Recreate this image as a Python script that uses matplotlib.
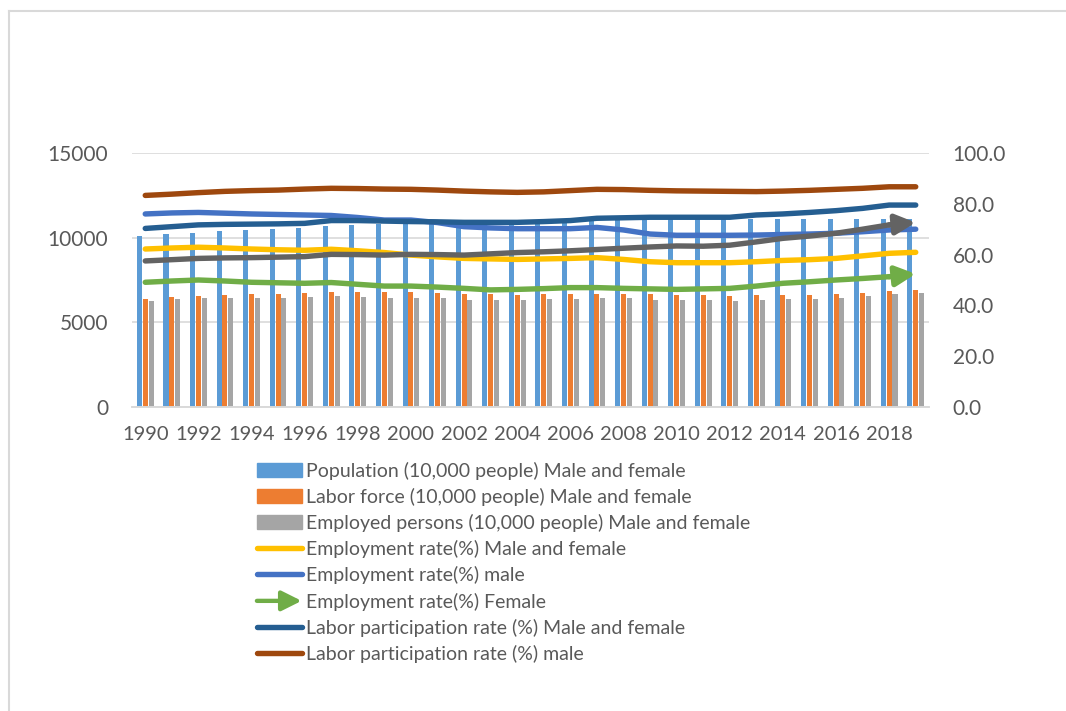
import matplotlib
matplotlib.use("Agg")
import matplotlib.pyplot as plt
import numpy as np
from matplotlib.patches import FancyArrowPatch, Rectangle
from matplotlib.legend_handler import HandlerBase
from matplotlib.lines import Line2D

plt.rcParams['font.family'] = ['Lato', 'DejaVu Sans']

years = list(range(1990, 2020))

# bars, 10,000 people (left axis)
population = [10090, 10200, 10280, 10370, 10440, 10510, 10570, 10660, 10730, 10780,
              10840, 10890, 10930, 10960, 10990, 11010, 11030, 11070, 11090, 11100,
              11110, 11120, 11100, 11090, 11080, 11110, 11115, 11120, 11100, 11090]
labor_force = [6384, 6505, 6578, 6615, 6645, 6666, 6711, 6787, 6793, 6779,
               6766, 6752, 6689, 6666, 6642, 6651, 6664, 6684, 6674, 6650,
               6632, 6596, 6565, 6593, 6609, 6625, 6673, 6720, 6830, 6886]
employed = [6249, 6369, 6436, 6450, 6453, 6457, 6486, 6557, 6514, 6462,
            6446, 6412, 6330, 6316, 6329, 6356, 6389, 6427, 6409, 6314,
            6298, 6293, 6280, 6326, 6371, 6401, 6465, 6530, 6664, 6724]

# rates, % (right axis)
emp_rate_total = [62.2, 62.6, 62.9, 62.6, 62.2, 61.9, 61.7, 62.1, 61.5, 60.8,
                  59.8, 59.1, 58.5, 58.3, 58.1, 58.3, 58.5, 58.8, 58.1, 57.2,
                  56.8, 56.8, 56.8, 57.2, 57.7, 58.0, 58.5, 59.5, 60.5, 60.9]
emp_rate_male = [76.0, 76.4, 76.6, 76.3, 76.0, 75.8, 75.6, 75.4, 74.6, 73.6,
                 73.6, 72.6, 71.0, 70.5, 70.2, 70.2, 70.2, 70.7, 69.7, 68.1,
                 67.6, 67.6, 67.6, 67.7, 67.9, 68.1, 68.4, 69.0, 69.7, 70.0]
emp_rate_female = [49.1, 49.6, 50.0, 49.6, 49.1, 48.9, 48.7, 49.0, 48.3, 47.6,
                   47.6, 47.2, 46.7, 46.1, 46.3, 46.6, 47.0, 47.0, 46.7, 46.5,
                   46.3, 46.5, 46.7, 47.6, 48.7, 49.3, 50.0, 50.6, 51.3, 52.4]
lp_rate_total = [70.3, 71.0, 71.7, 71.9, 72.0, 72.1, 72.3, 73.4, 73.4, 73.2,
                 73.0, 72.9, 72.7, 72.7, 72.7, 73.0, 73.4, 74.3, 74.5, 74.7,
                 74.7, 74.7, 74.7, 75.6, 76.0, 76.6, 77.3, 78.2, 79.5, 79.5]
lp_rate_male = [83.3, 83.8, 84.4, 84.9, 85.2, 85.4, 85.8, 86.1, 86.0, 85.8,
                85.7, 85.4, 85.0, 84.7, 84.5, 84.7, 85.2, 85.7, 85.6, 85.3,
                85.1, 85.0, 84.9, 84.8, 85.0, 85.3, 85.7, 86.1, 86.7, 86.7]
lp_rate_female = [57.5, 58.0, 58.5, 58.7, 58.8, 59.0, 59.2, 60.1, 60.0, 59.8,
                  60.1, 60.0, 59.8, 60.3, 60.8, 61.1, 61.5, 62.0, 62.5, 63.0,
                  63.4, 63.3, 63.7, 65.0, 66.4, 67.3, 68.4, 70.0, 71.7, 72.6]

TXT = '#595959'
GRID = '#d9d9d9'
LW = 3.9
ARROW = '-|>,head_length=0.6,head_width=0.3'


class ArrowHandler(HandlerBase):
    def create_artists(self, legend, orig_handle, xdescent, ydescent,
                       width, height, fontsize, trans):
        y = height / 2 - ydescent
        arr = FancyArrowPatch((-xdescent, y), (width - xdescent, y),
                              arrowstyle=ARROW, mutation_scale=20,
                              color=orig_handle.get_color(), lw=LW * 0.8,
                              shrinkA=0, shrinkB=0, transform=trans)
        return [arr]


fig = plt.figure(figsize=(10.66, 7.11), dpi=100)
ax = fig.add_axes([0.1238, 0.4276, 0.7477, 0.3572])
ax2 = ax.twinx()

x = np.arange(len(years))
w = 0.19
ax.bar(x - 0.22, population, w, color='#5b9bd5', zorder=2)
ax.bar(x, labor_force, w, color='#ed7d31', zorder=2)
ax.bar(x + 0.22, employed, w, color='#a5a5a5', zorder=2)

ax.set_ylim(0, 15000)
ax.set_yticks([0, 5000, 10000, 15000])
ax.set_xlim(-0.5, len(years) - 0.5)
ax.set_xticks(x[::2])
ax.set_xticklabels([str(y) for y in years[::2]])
ax.yaxis.grid(True, color=GRID, lw=1.2, zorder=0)
ax.set_axisbelow(True)

ax2.set_ylim(0, 100)
ax2.set_yticks(np.arange(0, 101, 20))
ax2.set_yticklabels([f'{v:.1f}' for v in np.arange(0, 101, 20)])


def rate_line(vals, color, arrow=False):
    if arrow:
        ax2.plot(x[:-1], vals[:-1], color=color, lw=LW, solid_capstyle='round',
                 solid_joinstyle='round', zorder=3)
        ax2.add_patch(FancyArrowPatch((x[-2], vals[-2]), (x[-1], vals[-1]),
                                      arrowstyle=ARROW, mutation_scale=20,
                                      color=color, lw=LW, shrinkA=0, shrinkB=0,
                                      zorder=3))
        return Line2D([], [], color=color, lw=LW)
    ln, = ax2.plot(x, vals, color=color, lw=LW, solid_capstyle='round',
                   solid_joinstyle='round', zorder=3)
    return ln


h_yel = rate_line(emp_rate_total, '#ffc000')
h_blu = rate_line(emp_rate_male, '#4472c4')
h_grn = rate_line(emp_rate_female, '#70ad47', arrow=True)
h_dbl = rate_line(lp_rate_total, '#255e91')
h_brn = rate_line(lp_rate_male, '#9e480e')
rate_line(lp_rate_female, '#636363', arrow=True)

for a in (ax, ax2):
    for s in ('top', 'left', 'right'):
        a.spines[s].set_visible(False)
    a.spines['bottom'].set_color(GRID)
    a.spines['bottom'].set_linewidth(1.2)
    a.tick_params(length=0, colors=TXT, labelsize=15)
ax.tick_params(axis='y', pad=17)
ax2.tick_params(axis='y', pad=17)
ax.tick_params(axis='x', pad=14, labelsize=14.5)

handles = [Rectangle((0, 0), 1, 1, color='#5b9bd5'),
           Rectangle((0, 0), 1, 1, color='#ed7d31'),
           Rectangle((0, 0), 1, 1, color='#a5a5a5'),
           Line2D([], [], color='#ffc000', lw=LW, solid_capstyle='round'),
           Line2D([], [], color='#4472c4', lw=LW, solid_capstyle='round'),
           h_grn,
           Line2D([], [], color='#255e91', lw=LW, solid_capstyle='round'),
           Line2D([], [], color='#9e480e', lw=LW, solid_capstyle='round')]
labels = ['Population (10,000 people) Male and female',
          'Labor force (10,000 people) Male and female',
          'Employed persons (10,000 people) Male and female',
          'Employment rate(%) Male and female',
          'Employment rate(%) male',
          'Employment rate(%) Female',
          'Labor participation rate (%) Male and female',
          'Labor participation rate (%) male']
leg = fig.legend(handles, labels, loc='upper left', bbox_to_anchor=(0.241, 0.351),
                 frameon=False, fontsize=14, handlelength=2.3, handleheight=0.75,
                 handletextpad=0.25, labelspacing=0.42, borderpad=0, borderaxespad=0,
                 handler_map={h_grn: ArrowHandler()})
for t in leg.get_texts():
    t.set_color(TXT)

# chart frame
fig.add_artist(Line2D([9 / 1066, 1], [1 - 11 / 711] * 2, color=GRID, lw=1.5))
fig.add_artist(Line2D([9 / 1066] * 2, [0, 1 - 11 / 711], color=GRID, lw=1.5))

fig.savefig('out.png', dpi=100)
